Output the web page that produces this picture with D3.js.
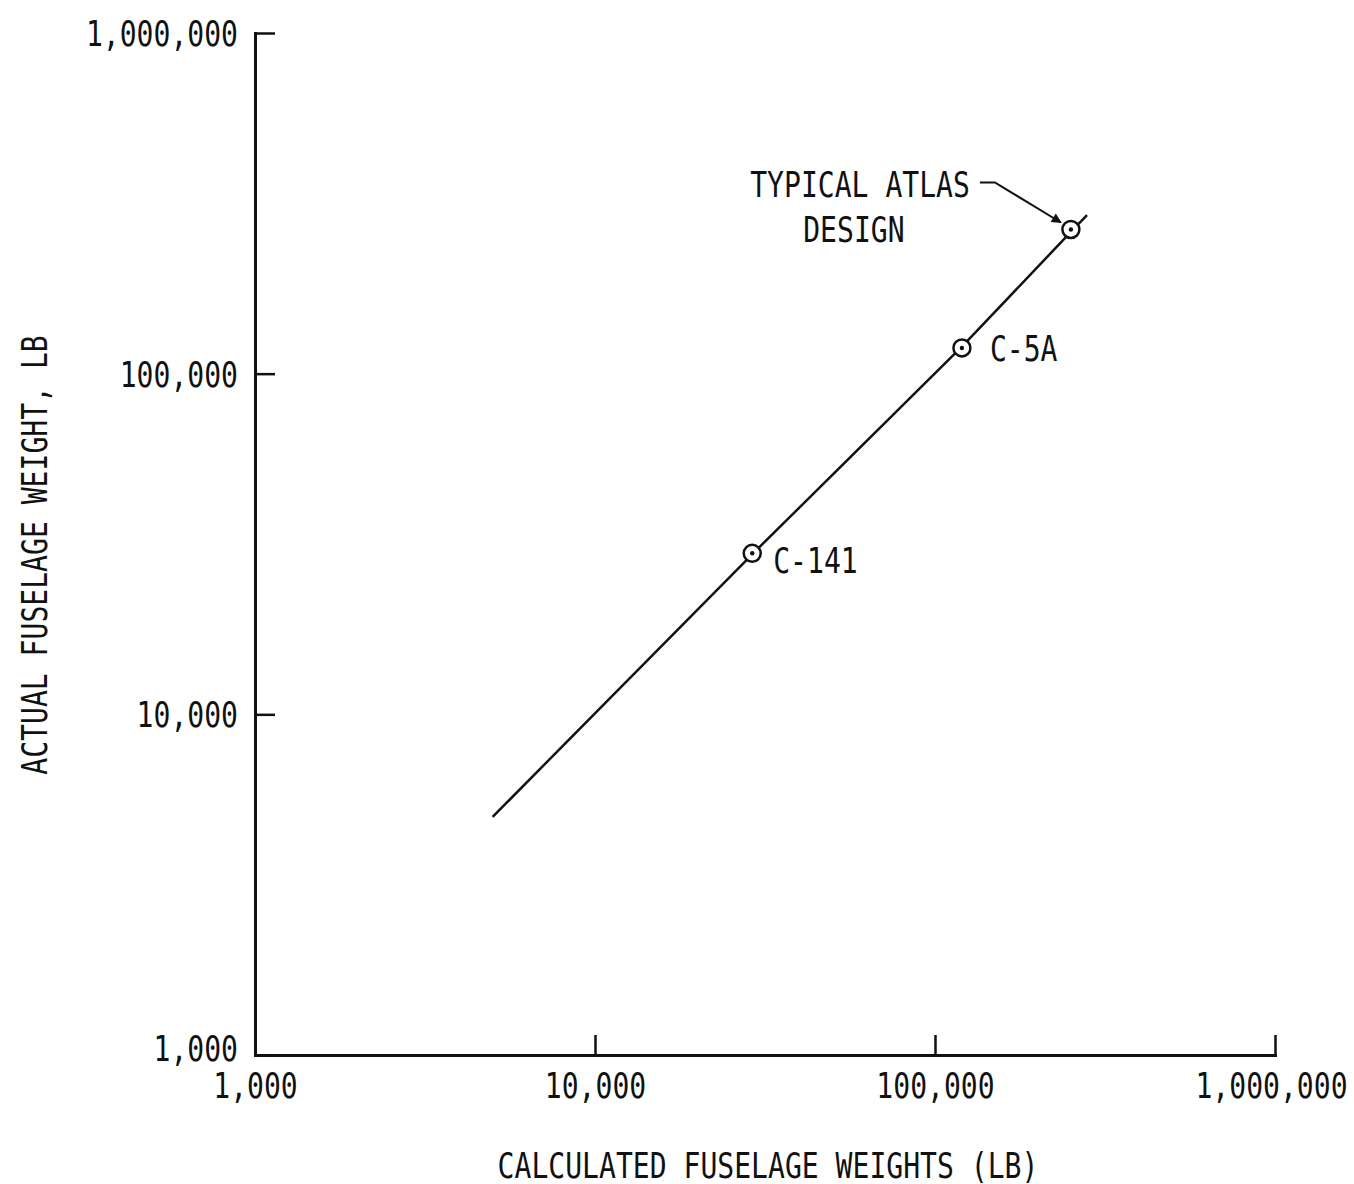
<!DOCTYPE html>
<html>
<head>
<meta charset="utf-8">
<script src="https://cdn.jsdelivr.net/npm/d3@7"></script>
<style>
  html, body { margin: 0; padding: 0; background: #fff; }
  svg text {
    font-family: "DejaVu Sans Mono", "Liberation Mono", monospace;
    fill: #111;
  }
</style>
</head>
<body>
<svg id="chart" width="1354" height="1184"></svg>
<script>
// Log–log comparison of calculated vs. actual fuselage weights (lb)
const xTicks = [1000, 10000, 100000, 1000000];
const yTicks = [1000, 10000, 100000, 1000000];
const xTitle = "CALCULATED FUSELAGE WEIGHTS (LB)";
const yTitle = "ACTUAL FUSELAGE WEIGHT, LB";

// Correlation line (calculated, actual)
const lineCalc   = [5000, 29000, 120000, 255000, 280000];
const lineActual = [5000, 29500, 120000, 265000, 292000];

// Labelled aircraft points
const pointNames  = ["C-141", "C-5A", "TYPICAL ATLAS DESIGN"];
const pointCalc   = [29000, 120000, 251000];
const pointActual = [29700, 119000, 265000];

const svg = d3.select("#chart");
const margin = { left: 255, right: 79, top: 33, bottom: 129 };
const W = 1354, H = 1184;

const x = d3.scaleLog().domain([1000, 1000000]).range([margin.left, W - margin.right]);
const y = d3.scaleLog().domain([1000, 1000000]).range([H - margin.bottom, margin.top]);

const fmt = d3.format(",");
const ink = "#111";
const FONT_SIZE = 35;
const ADVANCE = 16.9;   // narrow lettering: fixed advance per character

// Squeeze monospaced lettering to the narrow drafting-style width
function letter(sel) {
  sel.style("font-size", FONT_SIZE + "px")
    .attr("lengthAdjust", "spacingAndGlyphs")
    .attr("textLength", function () { return this.textContent.length * ADVANCE; });
  return sel;
}

// X axis (ticks point up into the plot)
const gx = svg.append("g")
  .attr("transform", `translate(0,${y(1000)})`)
  .call(d3.axisBottom(x).tickValues(xTicks).tickFormat(fmt).tickSizeInner(-20).tickSizeOuter(0).tickPadding(16));

// Y axis (ticks point right into the plot)
const gy = svg.append("g")
  .attr("transform", `translate(${x(1000)},0)`)
  .call(d3.axisLeft(y).tickValues(yTicks).tickFormat(fmt).tickSizeInner(-20).tickSizeOuter(0).tickPadding(17));

[gx, gy].forEach(g => {
  g.attr("font-family", null).attr("font-size", null);
  g.select(".domain").attr("stroke", ink).attr("stroke-width", 3).attr("stroke-linecap", "square");
  g.selectAll(".tick line").attr("stroke", ink).attr("stroke-width", 2.5);
  g.selectAll(".tick text").attr("fill", ink).call(letter);
});
gx.selectAll(".tick text").attr("dy", "0.78em")
  .attr("dx", d => d === 1000000 ? -4 : 0);
// lowest y label sits a little above its tick, clear of the x labels
gy.selectAll(".tick text").attr("dy", d => d === 1000 ? "0.15em" : "0.36em");

// Axis titles
svg.append("text")
  .attr("x", (x(1000) + x(1000000)) / 2 + 3)
  .attr("y", 1178)
  .attr("text-anchor", "middle")
  .text(xTitle)
  .call(letter);

svg.append("text")
  .attr("transform", `translate(47,555) rotate(-90)`)
  .attr("text-anchor", "middle")
  .text(yTitle)
  .call(letter);

// Correlation line
const lineData = lineCalc.map((c, i) => [c, lineActual[i]]);
svg.append("path")
  .datum(lineData)
  .attr("fill", "none")
  .attr("stroke", ink)
  .attr("stroke-width", 2.5)
  .attr("d", d3.line().x(d => x(d[0])).y(d => y(d[1])));

// Points: open circle with centre dot
const pts = pointNames.map((n, i) => ({ name: n, cx: x(pointCalc[i]), cy: y(pointActual[i]) }));
const pg = svg.append("g");
pg.selectAll("circle.ring").data(pts).join("circle")
  .attr("class", "ring")
  .attr("cx", d => d.cx).attr("cy", d => d.cy).attr("r", 8.5)
  .attr("fill", "#fff").attr("stroke", ink).attr("stroke-width", 2.5);
pg.selectAll("circle.dot").data(pts).join("circle")
  .attr("class", "dot")
  .attr("cx", d => d.cx).attr("cy", d => d.cy).attr("r", 2.2)
  .attr("fill", ink);

// Aircraft labels
const c141 = pts[0], c5a = pts[1], atlas = pts[2];
svg.append("text")
  .attr("x", c141.cx + 21).attr("y", c141.cy + 20)
  .text("C-141").call(letter);
svg.append("text")
  .attr("x", c5a.cx + 28).attr("y", c5a.cy + 13)
  .text("C-5A").call(letter);

// Atlas callout: two-line label with a leader arrow
svg.append("text")
  .attr("x", atlas.cx - 101).attr("y", atlas.cy - 32)
  .attr("text-anchor", "end")
  .text("TYPICAL ATLAS").call(letter);
svg.append("text")
  .attr("x", atlas.cx - 217).attr("y", atlas.cy + 13)
  .attr("text-anchor", "middle")
  .text("DESIGN").call(letter);

svg.append("defs").append("marker")
  .attr("id", "arrow")
  .attr("viewBox", "0 0 10 10")
  .attr("refX", 9).attr("refY", 5)
  .attr("markerWidth", 14).attr("markerHeight", 10)
  .attr("markerUnits", "userSpaceOnUse")
  .attr("orient", "auto")
  .append("path")
  .attr("d", "M0,0 L10,5 L0,10 Z")
  .attr("fill", ink);

svg.append("path")
  .attr("fill", "none")
  .attr("stroke", ink)
  .attr("stroke-width", 2)
  .attr("marker-end", "url(#arrow)")
  .attr("d", `M${atlas.cx - 91},${atlas.cy - 47} L${atlas.cx - 76},${atlas.cy - 47} L${atlas.cx - 10},${atlas.cy - 7}`);
</script>
</body>
</html>
